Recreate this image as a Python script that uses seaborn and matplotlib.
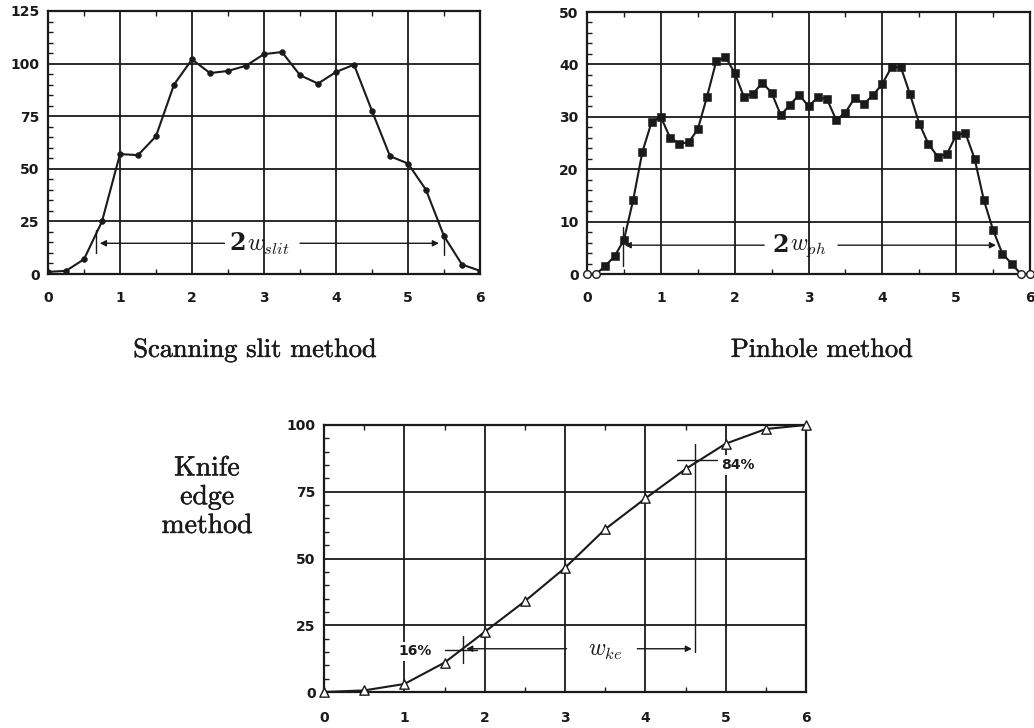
import matplotlib
matplotlib.use("Agg")
import matplotlib.pyplot as plt
import matplotlib.patheffects as pe
import seaborn as sns
import pandas as pd
from matplotlib.ticker import MultipleLocator

# ---------------- data ----------------
slit_x = [0, 0.25, 0.5, 0.75, 1.0, 1.25, 1.5, 1.75, 2.0, 2.25, 2.5, 2.75, 3.0,
          3.25, 3.5, 3.75, 4.0, 4.25, 4.5, 4.75, 5.0, 5.25, 5.5, 5.75, 6.0]
slit_y = [1, 1.5, 7, 25, 57, 56.5, 65.5, 90, 102, 95.5, 96.5, 99, 104.5,
          105.5, 94.5, 90.5, 96, 99.5, 77.5, 56, 52.5, 40, 18, 4.5, 1.5]

ph_x = [0, 0.125, 0.25, 0.375, 0.5, 0.625, 0.75, 0.875, 1.0, 1.125, 1.25, 1.375,
        1.5, 1.625, 1.75, 1.875, 2.0, 2.125, 2.25, 2.375, 2.5, 2.625, 2.75, 2.875,
        3.0, 3.125, 3.25, 3.375, 3.5, 3.625, 3.75, 3.875, 4.0, 4.125, 4.25, 4.375,
        4.5, 4.625, 4.75, 4.875, 5.0, 5.125, 5.25, 5.375, 5.5, 5.625, 5.75, 5.875, 6.0]
ph_y = [0, 0, 1.6, 3.4, 6.5, 14.1, 23.3, 29, 30, 26, 24.9, 25.1,
        27.6, 33.8, 40.6, 41.4, 38.4, 33.8, 34.4, 36.5, 34.6, 30.3, 32.3, 34.2,
        32, 33.7, 33.4, 29.4, 30.8, 33.6, 32.5, 34.1, 36.3, 39.5, 39.5, 34.3,
        28.7, 24.8, 22.4, 22.9, 26.5, 26.9, 22, 14.1, 8.4, 3.9, 2.0, 0, 0]
ph_open = [0, 1, 47, 48]   # indices drawn as open circles

ke_x = [0, 0.5, 1.0, 1.5, 2.0, 2.5, 3.0, 3.5, 4.0, 4.5, 5.0, 5.5, 6.0]
ke_y = [0, 0.6, 3, 11, 22.5, 34, 46.5, 61, 72.5, 83.5, 93, 98.5, 100]

x_ticks = [0, 1, 2, 3, 4, 5, 6]
slit_yticks = [0, 25, 50, 75, 100, 125]
ph_yticks = [0, 10, 20, 30, 40, 50]
ke_yticks = [0, 25, 50, 75, 100]

# ---------------- style ----------------
sns.set_style("white")
plt.rcParams["mathtext.fontset"] = "cm"
plt.rcParams["font.family"] = ["DejaVu Sans"]

INK = "#1a1a1a"
W, H = 1034, 728
fig = plt.figure(figsize=(W / 100, H / 100), dpi=100)
THICK = [pe.withStroke(linewidth=0.35, foreground=INK)]


def box(l, t, r, b):
    return [l / W, 1 - b / H, (r - l) / W, (b - t) / H]


def style_axes(ax, yticks, yminor, ymax, xpad, ypad):
    ax.set_xlim(0, 6)
    ax.set_ylim(0, ymax)
    ax.set_xticks(x_ticks)
    ax.set_yticks(yticks)
    ax.set_xticklabels([str(v) for v in x_ticks])
    ax.set_yticklabels([str(v) for v in yticks])
    ax.xaxis.set_minor_locator(MultipleLocator(0.5))
    ax.yaxis.set_minor_locator(MultipleLocator(yminor))
    ax.grid(True, which="major", color=INK, lw=1.3)
    ax.set_axisbelow(True)
    for s in ax.spines.values():
        s.set_visible(True)
        s.set_color(INK)
        s.set_linewidth(1.6)
    ax.tick_params(which="major", length=0, labelsize=10, labelcolor=INK)
    ax.tick_params(axis="x", which="major", pad=xpad)
    ax.tick_params(axis="y", which="major", pad=ypad)
    ax.tick_params(which="minor", direction="in", length=3.5, width=1.0,
                   color=INK, top=True, bottom=True, left=True, right=False)
    for lab in ax.get_xticklabels() + ax.get_yticklabels():
        lab.set_fontweight("bold")
    ax.set_xlabel("")
    ax.set_ylabel("")


def hline(ax, x0, x1, y):
    ax.plot([x0, x1], [y, y], color=INK, lw=1.0)


def vline(ax, x, y0, y1):
    ax.plot([x, x], [y0, y1], color=INK, lw=1.0)


def arrow(ax, x_from, x_to, y):
    ax.annotate("", xy=(x_to, y), xytext=(x_from, y),
                arrowprops=dict(arrowstyle="-|>", color=INK, lw=1.0,
                                mutation_scale=9, shrinkA=0, shrinkB=0))


def width_label(ax, x, y, sub):
    # bold "2" followed by the italic w with subscript
    ax.text(x, y, "2", ha="right", va="center", fontsize=17,
            family="DejaVu Serif", fontweight="bold", color=INK)
    ax.annotate(r"$w_{%s}$" % sub, xy=(x, y), xytext=(1, -1),
                textcoords="offset points", ha="left", va="center",
                fontsize=17, color=INK)


# ---------------- scanning slit ----------------
ax1 = fig.add_axes(box(48, 11, 480, 274))
df1 = pd.DataFrame({"x": slit_x, "y": slit_y})
sns.lineplot(data=df1, x="x", y="y", ax=ax1, color=INK, lw=1.5)
sns.scatterplot(data=df1, x="x", y="y", ax=ax1, color=INK, s=18,
                marker="o", edgecolor=INK, zorder=4)
style_axes(ax1, slit_yticks, 5, 125, 12, 6)
arrow(ax1, 2.45, 0.72, 14.6)
arrow(ax1, 3.5, 5.43, 14.6)
vline(ax1, 0.67, 10, 21)
vline(ax1, 5.5, 9, 19.5)
width_label(ax1, 2.75, 14.6, "slit")

# ---------------- pinhole ----------------
ax2 = fig.add_axes(box(587, 12, 1030, 274))
df2 = pd.DataFrame({"x": ph_x, "y": ph_y})
df2["open"] = [i in ph_open for i in range(len(ph_x))]
sns.lineplot(data=df2, x="x", y="y", ax=ax2, color=INK, lw=1.5)
sns.scatterplot(data=df2[~df2["open"]], x="x", y="y", ax=ax2, color=INK,
                s=26, marker="s", edgecolor=INK, zorder=4)
sns.scatterplot(data=df2[df2["open"]], x="x", y="y", ax=ax2, s=30,
                marker="o", facecolor="white", edgecolor=INK, linewidth=1.0,
                zorder=5, clip_on=False)
style_axes(ax2, ph_yticks, 2, 50, 12, 6)
arrow(ax2, 2.4, 0.51, 5.5)
arrow(ax2, 3.4, 5.54, 5.5)
vline(ax2, 0.49, 1.5, 9)
width_label(ax2, 2.73, 5.5, "ph")

# ---------------- knife edge ----------------
ax3 = fig.add_axes(box(324, 425, 806, 692))
df3 = pd.DataFrame({"x": ke_x, "y": ke_y})
sns.lineplot(data=df3, x="x", y="y", ax=ax3, color=INK, lw=1.5)
sns.scatterplot(data=df3, x="x", y="y", ax=ax3, s=45, marker="^",
                facecolor="white", edgecolor=INK, linewidth=1.0, zorder=4,
                clip_on=False)
style_axes(ax3, ke_yticks, 5, 100, 14, 6)
# 16 % crosshair + w_ke arrow
hline(ax3, 1.5, 1.9, 15.9)
vline(ax3, 1.73, 11, 21)
ax3.text(1.13, 15.2, "16%", ha="center", va="center", fontsize=10,
         fontweight="bold", color=INK,
         bbox=dict(facecolor="white", edgecolor="none", pad=2))
arrow(ax3, 3.02, 1.77, 16.2)
arrow(ax3, 3.9, 4.58, 16.2)
ax3.text(3.5, 15.6, r"$w_{ke}$", ha="center", va="center", fontsize=17,
         color=INK)
vline(ax3, 4.62, 15.0, 93)
# 84 % crosshair
hline(ax3, 4.4, 4.89, 87)
ax3.text(5.15, 85, "84%", ha="center", va="center", fontsize=10,
         fontweight="bold", color=INK,
         bbox=dict(facecolor="white", edgecolor="none", pad=2))

# ---------------- captions ----------------
fig.text(255 / W, 1 - 350 / H, "Scanning slit method", ha="center",
         va="center", fontsize=19, family="cmr10", color=INK,
         path_effects=THICK)
fig.text(822 / W, 1 - 350 / H, "Pinhole method", ha="center", va="center",
         fontsize=19, family="cmr10", color=INK, path_effects=THICK)
fig.text(207 / W, 1 - 497 / H, "Knife\nedge\nmethod", ha="center",
         va="center", fontsize=20, family="cmr10", color=INK,
         linespacing=1.12, path_effects=THICK)

fig.savefig("out.png", dpi=100)
